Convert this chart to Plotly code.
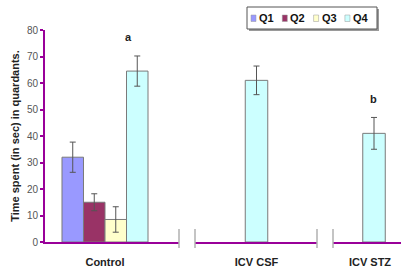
import plotly.graph_objects as go

# ---------------- data ----------------
categories = ["Control", "ICV CSF", "ICV STZ"]
series_names = ["Q1", "Q2", "Q3", "Q4"]
series_colors = ["#9999FF", "#993366", "#FFFFCC", "#CCFFFF"]
q1_values = [32.0, None, None]
q2_values = [15.0, None, None]
q3_values = [8.5, None, None]
q4_values = [64.5, 61.0, 41.0]
q1_errors = [5.7, None, None]
q2_errors = [3.2, None, None]
q3_errors = [4.8, None, None]
q4_errors = [5.7, 5.4, 6.0]
sig_letters = ["a", "", "b"]
y_ticks = [0, 10, 20, 30, 40, 50, 60, 70, 80]
y_title = "Time spent (in sec) in quardants."

values = [q1_values, q2_values, q3_values, q4_values]
errors = [q1_errors, q2_errors, q3_errors, q4_errors]

FONT = "Arial, Liberation Sans, sans-serif"
AXIS_COL = "#990099"

W, H = 401, 270
L, R, T, B = 45, 0, 30, 28
PW, PH = W - L - R, H - T - B

def px_x(p):
    return (p - L) / PW

def px_y(q):
    return (H - B - q) / PH

# pixel extents of the three broken x-axis segments
segments = [(45, 179), (195, 317), (333, 401)]
# group centres (px) and px per category unit
centres = [105, 256.5, 374]
unit_px = [134, 122, 122]

fig = go.Figure()
axis_names = ["x", "x2", "x3"]

for ci, cat in enumerate(categories):
    for si, name in enumerate(series_names):
        v = values[si][ci]
        if v is None:
            continue
        kw = {}
        if ci > 0:
            kw["width"] = 22.5 / unit_px[ci]
        fig.add_trace(go.Bar(
            x=[cat], y=[v], name=name,
            xaxis=axis_names[ci], yaxis="y",
            marker=dict(color=series_colors[si], line=dict(color="#7a7a7a", width=1)),
            error_y=dict(type="data", array=[errors[si][ci]], color="#555555",
                         thickness=1, width=3),
            showlegend=False, **kw))
    if sig_letters[ci]:
        top = max(values[si][ci] + errors[si][ci] for si in range(4) if values[si][ci] is not None)
        fig.add_annotation(x=cat, y=top + 7, xref=axis_names[ci], yref="y",
                           text=sig_letters[ci], showarrow=False,
                           xshift=(23 if ci == 0 else -1),
                           font=dict(family=FONT, size=11, color="#222222", weight="bold"))

layout_axes = {}
for ci, cat in enumerate(categories):
    a, b = segments[ci]
    c, u = centres[ci], unit_px[ci]
    key = "xaxis" if ci == 0 else f"xaxis{ci+1}"
    layout_axes[key] = dict(
        domain=[px_x(a), px_x(b)], anchor="y", type="category",
        range=[(a - c) / u, (b - c) / u],
        showline=True, linecolor=AXIS_COL, linewidth=2,
        showgrid=False, zeroline=False, ticks="",
        ticklabelstandoff=9,
        ticklabelshift=(-4 if ci == 2 else 0),
        tickfont=dict(family=FONT, size=11, color="#222222", weight="bold"),
        fixedrange=True)

fig.update_layout(
    width=W, height=H,
    margin=dict(l=L, r=R, t=T, b=B, autoexpand=False),
    paper_bgcolor="white", plot_bgcolor="white",
    barmode="group", bargap=0.358, bargroupgap=0,
    yaxis=dict(range=[0, 80], tickvals=y_ticks, showline=True, linecolor=AXIS_COL,
               linewidth=2, ticks="outside", ticklen=3, tickcolor=AXIS_COL, tickwidth=2,
               showgrid=False, zeroline=False, anchor="x", fixedrange=True,
               tickfont=dict(family=FONT, size=10, color="#555555"),
               title=dict(text=y_title, standoff=5,
                          font=dict(family=FONT, size=11, color="#222222", weight="bold"))),
    **layout_axes,
)

# axis break marks
for p in [179, 195, 317, 333]:
    fig.add_shape(type="line", xref="paper", yref="paper",
                  x0=px_x(p), x1=px_x(p), y0=px_y(229), y1=px_y(248),
                  line=dict(color="#b0b0b0", width=1.5))

# custom compact legend
lx0, lx1, ly0, ly1 = 247, 377, 7, 29
fig.add_shape(type="rect", xref="paper", yref="paper",
              x0=px_x(lx0 + 2), x1=px_x(lx1 + 2), y0=px_y(ly0 + 2), y1=px_y(ly1 + 2),
              line=dict(width=0), fillcolor="#9a9a9a", layer="above")
fig.add_shape(type="rect", xref="paper", yref="paper",
              x0=px_x(lx0), x1=px_x(lx1), y0=px_y(ly0), y1=px_y(ly1),
              line=dict(color="#555555", width=1), fillcolor="white", layer="above")
for si, name in enumerate(series_names):
    sx = 251 + si * 31.3
    fig.add_shape(type="rect", xref="paper", yref="paper",
                  x0=px_x(sx), x1=px_x(sx + 5), y0=px_y(15), y1=px_y(21.5),
                  line=dict(color="#999999", width=0.5), fillcolor=series_colors[si],
                  layer="above")
    fig.add_annotation(xref="paper", yref="paper", x=px_x(sx + 6), y=px_y(18.5),
                       xanchor="left", yanchor="middle", text=name, showarrow=False,
                       font=dict(family=FONT, size=11, color="#111111", weight="bold"))

fig.write_html("out.html", config={"displayModeBar": False},
               post_script="document.body.style.margin='0';")
